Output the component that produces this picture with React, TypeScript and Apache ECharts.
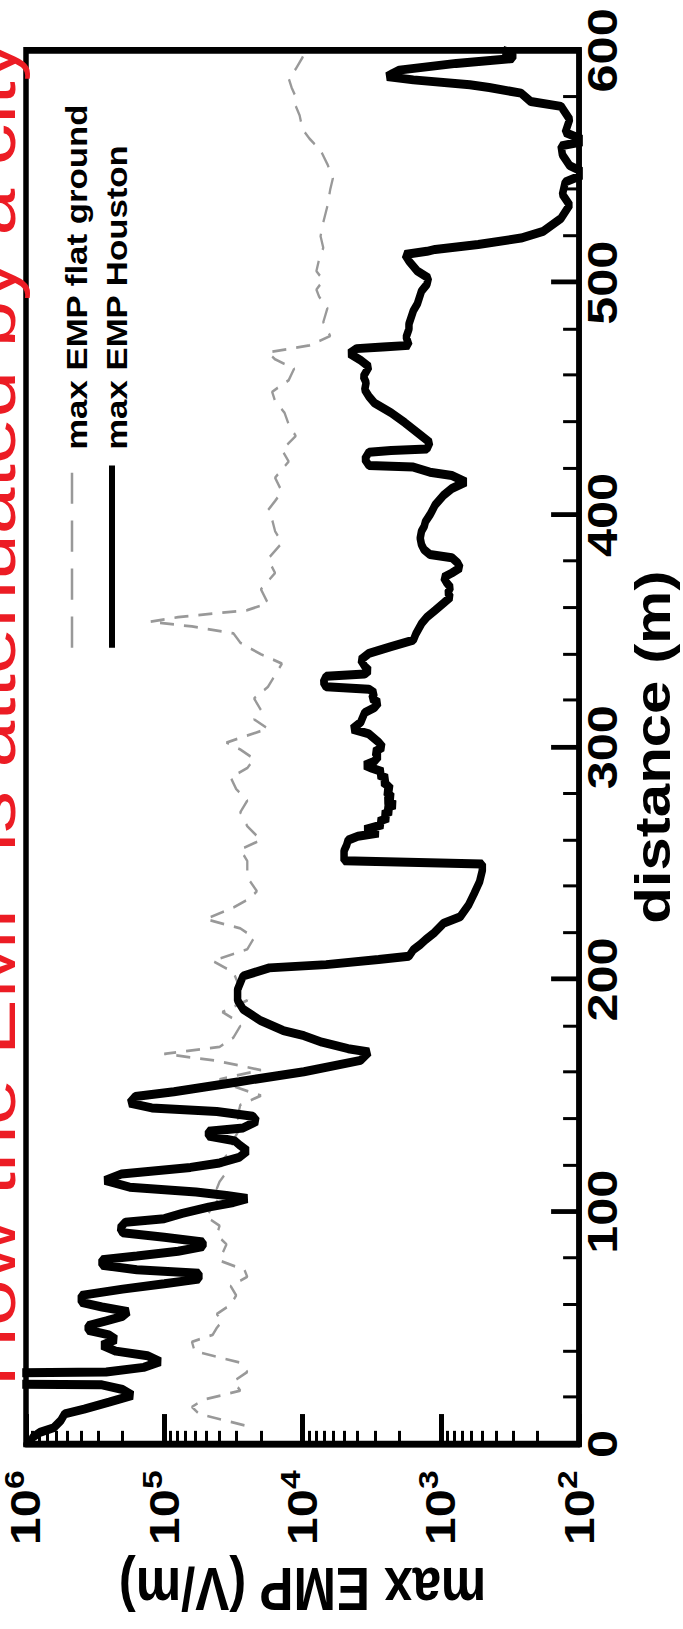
import React, { useEffect, useRef } from 'react';
import * as echarts from 'echarts';

// ---- data ----
const titleText = 'How the EMP is attenuated by a city';
const legendNames = ['max EMP flat ground', 'max EMP Houston'];
const distanceAxisName = 'distance (m)';
const empAxisName = 'max EMP (V/m)';
const distanceTickValues = [0, 100, 200, 300, 400, 500, 600];
const empTickExponents = ['2', '3', '4', '5', '6'];
const minorMultipliers = [2, 3, 4, 5, 6, 7, 8, 9];

// Houston (solid black): distance in m, max EMP in V/m
const houstonDistance = [
  0, 3, 5, 7, 10, 13, 15, 18, 21, 23.5,
  25.5, 26, 30.5, 31, 33, 35.5, 38, 40, 42.5, 45,
  47, 49, 51, 53, 55, 57, 59, 61, 64, 66.7,
  69, 71, 73.5, 75, 77, 79.4, 81, 83, 85, 87,
  89, 91, 93, 95.5, 97, 99.3, 102, 104, 105.7, 107,
  108.5, 110.6, 113.5, 116.3, 119.1, 121, 123.4, 126.2, 128.5, 130.5,
  132.6, 134.7, 136.1, 139, 141.1, 143.2, 144.7, 146.8, 149.6, 151.7,
  156, 160.3, 165.2, 168.8, 170.2, 173, 175.8, 178, 182.2, 187.2,
  191, 195.7, 201.5, 205, 206.4, 208.6, 210, 212.8, 215, 217.1,
  220, 224.2, 227, 232, 236.9, 242, 246.9, 249.7, 251.1, 253,
  255.4, 258, 260, 261.7, 263, 264.5, 266.7, 268, 269.5, 271,
  272.4, 274, 275.2, 277, 278.5, 280.9, 282, 283.7, 285, 286.6,
  288, 289.4, 291, 292.2, 294, 296, 298, 300, 302.2, 305.7,
  307.8, 310.7, 314.9, 317, 319.2, 321, 323.4, 325, 326, 328,
  330.5, 331.5, 333, 334.8, 337.6, 340.4, 343.3, 346.1, 349, 353.2,
  356, 358.9, 362, 364.6, 366.5, 368.8, 371, 373.1, 375, 377.3,
  379.5, 381.6, 383, 385, 387.2, 390, 393, 395, 397.2, 400,
  402, 404.3, 408.5, 411.4, 414.2, 417, 418.4, 420.6, 421.3, 424,
  427, 427.7, 428.4, 431.2, 435.5, 439.7, 444, 448.2, 451, 453.9,
  457, 459.6, 463.8, 466.6, 469.5, 471.6, 472.3, 473, 476.6, 480,
  482.2, 487.9, 490.8, 496.4, 499.3, 502, 505, 509.3, 512.1, 513.5,
  514.3, 516.4, 519.2, 522.1, 527.7, 533.4, 538, 543.3, 547, 550.4,
  555, 558.9, 561, 564.6, 570.3, 575.9, 578, 581.6, 584, 585.2,
  587.3, 588.7, 590, 591.5, 594.4, 596.5, 598.6, 600,
];
const houstonEmp = [
  933000, 891000, 794000, 631000, 562000, 525000, 380000, 251000, 170000, 200000,
  282000, 3160000, 3160000, 263000, 141000, 107000, 132000, 224000, 282000, 224000,
  251000, 355000, 355000, 263000, 200000, 182000, 282000, 398000, 398000, 200000,
  100000, 56200, 56200, 158000, 282000, 282000, 158000, 79400, 52500, 52500,
  100000, 200000, 209000, 191000, 100000, 74100, 47900, 31600, 25100, 35500,
  58900, 178000, 269000, 204000, 64600, 39800, 28800, 25100, 28200, 30900,
  47900, 47900, 26900, 21400, 22900, 41700, 123000, 178000, 162000, 85100,
  28800, 9770, 3800, 3310, 4680, 7240, 9770, 13800, 20000, 26900,
  29500, 29500, 26900, 17400, 6760, 2820, 1700, 1580, 1410, 1290,
  1120, 955, 724, 631, 575, 525, 501, 501, 5010, 5010,
  5010, 4790, 4680, 3980, 2820, 3550, 2630, 2820, 2400, 2630,
  2290, 2510, 2140, 2510, 2240, 2510, 2290, 2450, 2630, 2450,
  2820, 2630, 3160, 3550, 3020, 2820, 3020, 2630, 2820, 3310,
  4370, 3800, 3550, 3020, 2820, 3160, 3020, 3310, 6760, 7080,
  6760, 3550, 3310, 3550, 3800, 3310, 2290, 1580, 1510, 1380,
  1260, 1100, 955, 851, 891, 851, 912, 955, 832, 724,
  759, 832, 1200, 1320, 1380, 1410, 1380, 1320, 1290, 1200,
  1150, 1100, 955, 832, 661, 832, 1200, 1580, 3310, 3550,
  3310, 2290, 1260, 1200, 1480, 1820, 2290, 3020, 3310, 3550,
  3470, 3630, 3310, 3800, 4570, 4070, 2630, 1700, 1780, 1700,
  1700, 1580, 1480, 1380, 1260, 1230, 1480, 1700, 1820, 1260,
  1100, 537, 263, 182, 135, 117, 132, 126, 89, 117,
  132, 135, 89, 126, 117, 135, 224, 263, 447, 617,
  1580, 2450, 2240, 2000, 776, 302, 302, 355,
];

// Flat ground (grey dashed)
const flatDistance = [
  8, 13, 16, 19, 23, 27, 31, 35, 40, 44,
  47, 50, 53, 56, 60, 64, 68, 72, 75, 79,
  82, 86, 90, 94, 98, 102, 106, 110, 113, 117,
  121, 126, 131, 136, 141, 146, 150, 154, 157, 161,
  165, 168, 171, 175, 180, 183, 186, 191, 196, 203,
  208, 213, 218, 222, 226, 231, 235, 238, 244, 251,
  256, 260, 266, 272, 277, 282, 287, 291, 295, 299,
  302, 308, 312, 316, 321, 326, 331, 336, 340, 345,
  349, 352, 354, 356, 359, 362, 368, 375, 381, 388,
  393, 398, 402, 406, 410, 416, 423, 428, 434, 439,
  444, 449, 453, 458, 463, 467, 470, 473, 477, 483,
  489, 494, 497, 501, 505, 510, 515, 520, 526, 533,
  540, 545, 551, 557, 562, 566, 572, 576, 580, 584,
  588, 592, 597, 600,
];
const flatEmp = [
  26300, 56200, 63100, 52500, 28200, 31600, 25100, 28200, 60300, 63100,
  44700, 41700, 38000, 41700, 33100, 30200, 33100, 25100, 26300, 39800,
  38000, 35500, 41700, 39800, 50100, 44700, 39800, 41700, 39800, 35500,
  39800, 33100, 31600, 28200, 29500, 28200, 20000, 31600, 39800, 20000,
  41700, 100000, 39800, 31600, 28200, 31600, 38000, 25100, 28200, 31600,
  44700, 25100, 22400, 28200, 50100, 31600, 24000, 21400, 25100, 25100,
  28200, 20000, 25100, 28200, 25100, 30200, 33100, 25100, 22400, 28200,
  35500, 17800, 22400, 20000, 22400, 17800, 15800, 14100, 20000, 28200,
  31600, 63100, 126000, 79400, 25100, 17800, 20000, 15800, 17800, 14100,
  15800, 16600, 17800, 15800, 14100, 15800, 12600, 14100, 11200, 12600,
  13500, 15800, 16600, 12600, 11500, 15800, 17800, 8910, 6310, 7080,
  6610, 7590, 7940, 7080, 7940, 7590, 7080, 7410, 7080, 6610,
  6310, 6030, 6610, 7410, 8910, 10000, 10500, 11200, 11200, 12000,
  12600, 11200, 10000, 9550,
];

// ---- layout (chart is drawn unrotated, then turned a quarter turn) ----
const PAGE_W = 683;
const PAGE_H = 1629;
const CHART_W = 1358;
const CHART_H = 683;
const STRETCH = PAGE_H / CHART_W;

export default function App() {
  const ref = useRef<HTMLDivElement>(null);

  useEffect(() => {
    if (!ref.current) return;
    const chart = echarts.init(ref.current, undefined, { renderer: 'svg' });
    const font = '"Liberation Sans", Arial, sans-serif';

    const minorTickPositions: number[] = [];
    for (let e = 2; e < 6; e++) {
      for (const m of minorMultipliers) minorTickPositions.push(e + Math.log10(m));
    }

    const legendText = (text: string, y: number) => ({
      type: 'text',
      x: 983,
      y,
      silent: true,
      style: {
        text,
        fontSize: 29,
        fontWeight: 'bold',
        fontFamily: font,
        fill: '#000',
        align: 'left',
        textAlign: 'left',
        verticalAlign: 'middle',
        textVerticalAlign: 'middle',
      },
    });

    chart.setOption({
      animation: false,
      backgroundColor: '#ffffff',
      textStyle: { fontFamily: font },
      grid: {
        left: 141,
        right: 42,
        top: 26,
        bottom: 102,
        show: true,
        borderColor: '#000',
        borderWidth: 5.5,
        backgroundColor: 'transparent',
      },
      graphic: [
        {
          type: 'text',
          x: 202,
          y: -9,
          silent: true,
          style: {
            text: titleText,
            fontSize: 70,
            fontFamily: font,
            fill: '#ec1c24',
            align: 'left',
            textAlign: 'left',
            verticalAlign: 'middle',
            textVerticalAlign: 'middle',
          },
        },
        {
          type: 'line',
          silent: true,
          shape: { x1: 818, y1: 72, x2: 970, y2: 72 },
          style: { stroke: '#999999', lineWidth: 2.5, lineDash: [26, 14] },
        },
        {
          type: 'line',
          silent: true,
          shape: { x1: 818, y1: 112, x2: 970, y2: 112 },
          style: { stroke: '#000000', lineWidth: 6 },
        },
        legendText(legendNames[0], 77),
        legendText(legendNames[1], 117),
      ],
      xAxis: {
        type: 'value',
        min: distanceTickValues[0],
        max: distanceTickValues[distanceTickValues.length - 1],
        interval: 100,
        axisLine: { show: true, onZero: false, lineStyle: { color: '#000', width: 5.5 } },
        axisTick: { show: true, inside: true, length: 28, lineStyle: { color: '#000', width: 4 } },
        minorTick: { show: true, splitNumber: 5, length: 16, lineStyle: { color: '#000', width: 2.5 } },
        axisLabel: { show: true, fontSize: 42, fontWeight: 'bold', color: '#000', margin: 2, fontFamily: font },
        splitLine: { show: false },
        minorSplitLine: { show: false },
        name: distanceAxisName,
        nameLocation: 'middle',
        nameGap: 45,
        nameTextStyle: { fontSize: 50, fontWeight: 'bold', color: '#000', fontFamily: font },
      },
      yAxis: [
        {
          type: 'log',
          logBase: 10,
          min: 100,
          max: 1000000,
          axisLine: { show: true, onZero: false, lineStyle: { color: '#000', width: 5.5 } },
          axisTick: { show: true, inside: true, length: 25, lineStyle: { color: '#000', width: 5 } },
          axisLabel: {
            show: true,
            margin: 22,
            formatter: (v: number) => {
              const idx = Math.round(Math.log10(v)) - 2;
              return '{b|10}{s|' + empTickExponents[idx] + '}';
            },
            rich: {
              b: { fontSize: 42, fontWeight: 'bold', color: '#000', lineHeight: 52, fontFamily: font },
              s: { fontSize: 28, fontWeight: 'bold', color: '#000', lineHeight: 34, verticalAlign: 'top', fontFamily: font },
            },
          },
          splitLine: { show: false },
          name: empAxisName,
          nameLocation: 'middle',
          nameRotate: 90,
          nameGap: 82,
          nameTextStyle: { fontSize: 51, fontWeight: 'bold', color: '#000', fontFamily: font },
        },
        {
          type: 'value',
          min: 2,
          max: 6,
          position: 'left',
          axisLine: { show: false },
          axisLabel: { show: false },
          splitLine: { show: false },
          axisTick: {
            show: true,
            inside: true,
            length: 11,
            customValues: minorTickPositions,
            lineStyle: { color: '#000', width: 3 },
          },
        },
      ],
      series: [
        {
          name: legendNames[0],
          type: 'line',
          xAxisIndex: 0,
          yAxisIndex: 0,
          data: flatDistance.map((d, i) => [d, flatEmp[i]]),
          symbol: 'none',
          showSymbol: false,
          clip: true,
          itemStyle: { color: '#999999' },
          lineStyle: { color: '#999999', width: 2.3, type: [14, 10] },
          z: 2,
        },
        {
          name: legendNames[1],
          type: 'line',
          xAxisIndex: 0,
          yAxisIndex: 0,
          data: houstonDistance.map((d, i) => [d, houstonEmp[i]]),
          symbol: 'none',
          showSymbol: false,
          clip: true,
          itemStyle: { color: '#000' },
          lineStyle: { color: '#000', width: 7.5 },
          z: 3,
        },
      ],
    });

    return () => chart.dispose();
  }, []);

  return (
    <div
      style={{
        position: 'absolute',
        left: 0,
        top: 0,
        width: PAGE_W,
        height: PAGE_H,
        overflow: 'hidden',
        background: '#ffffff',
      }}
    >
      <div
        ref={ref}
        style={{
          position: 'absolute',
          left: 0,
          top: 0,
          width: CHART_W,
          height: CHART_H,
          transformOrigin: '0 0',
          transform: `translateY(${PAGE_H}px) rotate(-90deg) scaleX(${STRETCH})`,
        }}
      />
    </div>
  );
}
